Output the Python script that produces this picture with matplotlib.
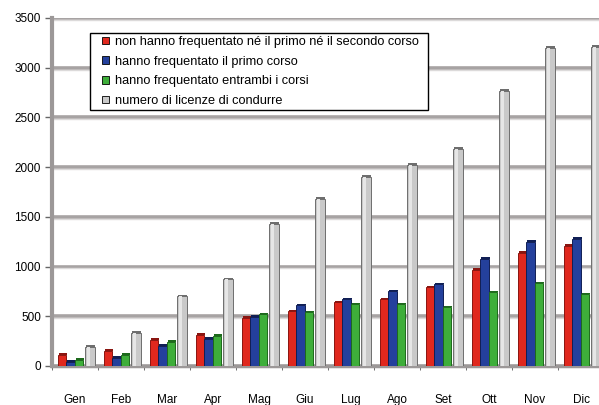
import numpy as np
import matplotlib
matplotlib.use("Agg")
import matplotlib.pyplot as plt
from matplotlib.patches import Patch, Rectangle

plt.rcParams['font.family'] = ['Liberation Sans', 'DejaVu Sans']

mesi = ["Gen", "Feb", "Mar", "Apr", "Mag", "Giu", "Lug", "Ago", "Set", "Ott", "Nov", "Dic"]
nessun_corso = [110, 150, 260, 310, 480, 550, 640, 670, 790, 970, 1140, 1210]
primo_corso = [40, 80, 200, 270, 490, 610, 670, 750, 820, 1080, 1250, 1280]
entrambi = [60, 110, 240, 300, 520, 540, 620, 620, 590, 740, 830, 720]
licenze = [190, 330, 700, 870, 1430, 1680, 1900, 2020, 2180, 2770, 3200, 3210]

etichette = [
    "non hanno frequentato né il primo né il secondo corso",
    "hanno frequentato il primo corso",
    "hanno frequentato entrambi i corsi",
    "numero di licenze di condurre",
]
colori = ["#e0281e", "#24409c", "#3eae3a", "#c9c9c9"]
bordi = ["#8a1510", "#101f55", "#1d6a1c", "#6e6e6e"]

W, H = 599, 405
fig = plt.figure(figsize=(W / 100, H / 100), dpi=100)
ax = fig.add_axes([52 / W, 39 / H, 552 / W, 348 / H])

x = np.arange(len(mesi))
serie = [nessun_corso, primo_corso, entrambi, licenze]
offset = [-0.28, -0.10, 0.08, 0.32]
larghezze = [0.19, 0.19, 0.17, 0.21]

# back wall gridlines, drawn thick like a 3D wall
for yv in range(0, 3501, 500):
    ax.axhline(yv, color="#a7a3a3", lw=2.6, zorder=0)
    ax.axhline(yv - 18, color="#dcdada", lw=1.0, zorder=0)

for vals, dx, w, fc, ec in zip(serie, offset, larghezze, colori, bordi):
    ax.bar(x + dx, vals, width=w, color=fc, edgecolor=ec, linewidth=0.7, zorder=3)
    # top face of each column
    ax.bar(x + dx + 0.02, [18] * len(vals), bottom=vals, width=w, color=ec,
           linewidth=0, zorder=2)

# lighter centre strip on the grey columns
ax.bar(x + offset[3] - 0.03, licenze, width=0.07, color="#e6e6e6", linewidth=0, zorder=4)

ax.set_xlim(-0.5, 11.5)
ax.set_ylim(0, 3500)
ax.set_yticks(range(0, 3501, 500))
ax.set_xticks(x)
ax.set_xticklabels(mesi)
ax.set_xticks(np.arange(-0.5, 11.6, 1), minor=True)
ax.tick_params(axis="x", which="major", length=0, pad=20, labelsize=8.5)
ax.tick_params(axis="x", which="minor", length=3, color="#555555", direction="out")
ax.tick_params(axis="y", length=5, width=1, color="#666666", pad=3, labelsize=8.5)

for s in ["top", "right"]:
    ax.spines[s].set_visible(False)
ax.spines["left"].set_color("#9c9898")
ax.spines["left"].set_linewidth(3)
ax.spines["bottom"].set_color("#9c9898")
ax.spines["bottom"].set_linewidth(2.5)

# legend frame drawn separately so the inner padding can be set freely
fig.patches.append(Rectangle((90 / W, 1 - 110 / H), 338 / W, 77 / H,
                             transform=fig.transFigure, facecolor="white",
                             edgecolor="black", linewidth=1.0, zorder=9))
maniglie = [Patch(facecolor=c, edgecolor="black", linewidth=0.6) for c in colori]
leg = fig.legend(maniglie, etichette, loc="upper left", bbox_to_anchor=(102 / W, 1 - 36 / H),
                 bbox_transform=fig.transFigure, borderaxespad=0, borderpad=0,
                 fontsize=9.2, handlelength=0.55, handleheight=0.55, handletextpad=0.45,
                 labelspacing=0.6, frameon=False)
leg.set_zorder(10)

fig.savefig("out.png", dpi=100)
